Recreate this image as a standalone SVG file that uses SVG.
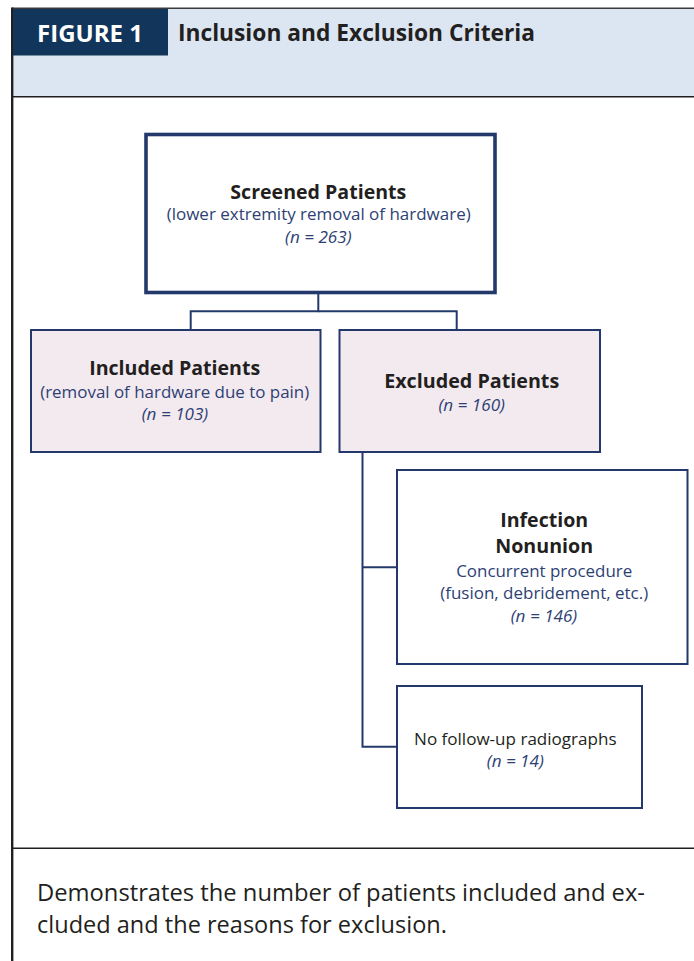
<svg xmlns="http://www.w3.org/2000/svg" width="694" height="961" viewBox="0 0 694 961">
<defs>
<style>
.b{font-family:"Open Sans","Noto Sans","Liberation Sans",sans-serif;font-weight:bold;fill:#231f20;text-anchor:middle}
.s{font-family:"Open Sans","Noto Sans","Liberation Sans",sans-serif;fill:#2e3f74;text-anchor:middle}
.i{font-family:"Open Sans","Noto Sans","Liberation Sans",sans-serif;font-style:italic;fill:#2e3f74;text-anchor:middle}
.d{font-family:"Open Sans","Noto Sans","Liberation Sans",sans-serif;fill:#231f20}
.box{fill:#ffffff;stroke:#24396b;stroke-width:2}
.pink{fill:#f3eaf0;stroke:#24396b;stroke-width:2}
.conn{fill:none;stroke:#24396b;stroke-width:2}
</style>
</defs>
<rect x="0" y="0" width="694" height="961" fill="#ffffff"/>
<g id="frame">
<rect x="12" y="8.5" width="682" height="88" fill="#dce6f2"/>
<line x1="12" y1="8.3" x2="694" y2="8.3" stroke="#3a3a3a" stroke-width="1.6"/>
<line x1="12" y1="96.8" x2="694" y2="96.8" stroke="#231f20" stroke-width="1.6"/>
<line x1="12" y1="848.3" x2="694" y2="848.3" stroke="#231f20" stroke-width="1.4"/>
<line x1="12.2" y1="7.5" x2="12.2" y2="961" stroke="#231f20" stroke-width="2.4"/>
<rect x="13" y="9" width="155" height="46.5" fill="#12355b"/>
<text x="37" y="42.3" font-family="'Open Sans','Noto Sans','Liberation Sans',sans-serif" font-weight="bold" font-size="23" fill="#ffffff" textLength="106" lengthAdjust="spacingAndGlyphs">FIGURE 1</text>
<text x="178" y="40.7" font-family="'Open Sans','Noto Sans','Liberation Sans',sans-serif" font-weight="bold" font-size="23.5" fill="#231f20" textLength="357" lengthAdjust="spacingAndGlyphs">Inclusion and Exclusion Criteria</text>
</g>
<g id="connectors">
<polyline class="conn" points="318.3,294 318.3,311.3 190.7,311.3 190.7,330"/>
<polyline class="conn" points="318.3,311.3 456.7,311.3 456.7,330"/>
<polyline class="conn" points="362.5,452 362.5,746.7 397,746.7"/>
<line class="conn" x1="362.5" y1="567.3" x2="397" y2="567.3"/>
</g>
<g id="screened">
<rect x="146" y="134.5" width="349" height="158" fill="#ffffff" stroke="#24396b" stroke-width="3.6"/>
<text class="b" x="318.3" y="199" font-size="20" textLength="176" lengthAdjust="spacingAndGlyphs">Screened Patients</text>
<text class="s" x="318.7" y="220" font-size="16.5" textLength="304" lengthAdjust="spacingAndGlyphs">(lower extremity removal of hardware)</text>
<text class="i" x="318.3" y="243.3" font-size="16" textLength="66.5" lengthAdjust="spacingAndGlyphs">(n = 263)</text>
</g>
<g id="included">
<rect class="pink" x="31" y="330" width="289.5" height="122"/>
<text class="b" x="174.7" y="375" font-size="20" textLength="171" lengthAdjust="spacingAndGlyphs">Included Patients</text>
<text class="s" x="174.7" y="398" font-size="16.5" textLength="269" lengthAdjust="spacingAndGlyphs">(removal of hardware due to pain)</text>
<text class="i" x="175" y="420" font-size="16" textLength="66.5" lengthAdjust="spacingAndGlyphs">(n = 103)</text>
</g>
<g id="excluded">
<rect class="pink" x="339.5" y="330" width="260.5" height="122"/>
<text class="b" x="471.7" y="388.3" font-size="20" textLength="175" lengthAdjust="spacingAndGlyphs">Excluded Patients</text>
<text class="i" x="471.7" y="410.7" font-size="16" textLength="66.5" lengthAdjust="spacingAndGlyphs">(n = 160)</text>
</g>
<g id="infection">
<rect class="box" x="397" y="470" width="290.5" height="194"/>
<text class="b" x="544.2" y="526.7" font-size="20" textLength="88" lengthAdjust="spacingAndGlyphs">Infection</text>
<text class="b" x="544.2" y="553.3" font-size="20" textLength="98" lengthAdjust="spacingAndGlyphs">Nonunion</text>
<text class="s" x="544.2" y="577.3" font-size="16.5" textLength="176" lengthAdjust="spacingAndGlyphs">Concurrent procedure</text>
<text class="s" x="544.2" y="599" font-size="16.5" textLength="208" lengthAdjust="spacingAndGlyphs">(fusion, debridement, etc.)</text>
<text class="i" x="544" y="621.7" font-size="16" textLength="66.5" lengthAdjust="spacingAndGlyphs">(n = 146)</text>
</g>
<g id="nofollowup">
<rect class="box" x="397" y="686" width="245" height="122"/>
<text class="d" x="515.3" y="745" font-size="16.5" text-anchor="middle" textLength="202.5" lengthAdjust="spacingAndGlyphs">No follow-up radiographs</text>
<text class="i" x="515.3" y="766.7" font-size="16" textLength="57" lengthAdjust="spacingAndGlyphs">(n = 14)</text>
</g>
<g id="caption">
<text class="d" x="37" y="901" font-size="24" textLength="608" lengthAdjust="spacingAndGlyphs">Demonstrates the number of patients included and ex-</text>
<text class="d" x="37" y="933" font-size="24" textLength="410" lengthAdjust="spacingAndGlyphs">cluded and the reasons for exclusion.</text>
</g>
</svg>
